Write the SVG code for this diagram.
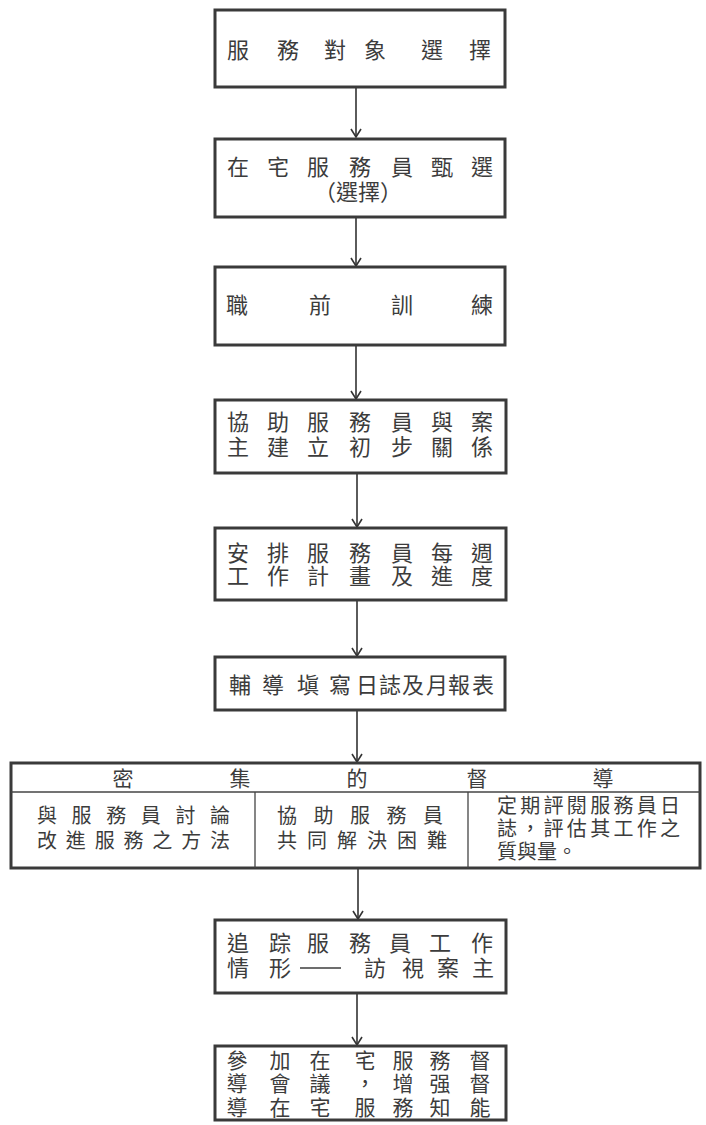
<svg xmlns="http://www.w3.org/2000/svg" width="706" height="1125" viewBox="0 0 706 1125">
<style>
.box{fill:#fff;stroke:#3a3a3a;stroke-width:3}
.thin{stroke:#444;stroke-width:1.3;fill:none}
.t{font-family:"Noto Sans CJK TC","Noto Sans CJK SC",sans-serif;font-size:22px;fill:#3c3c3c;text-anchor:middle}
.m{font-family:"Noto Sans CJK TC","Noto Sans CJK SC",sans-serif;font-size:21px;fill:#3c3c3c;text-anchor:middle}
.s{font-family:"Noto Sans CJK TC","Noto Sans CJK SC",sans-serif;font-size:20px;fill:#3c3c3c}
.c{stroke:#333;stroke-width:1.6;fill:none}
</style>
<defs>
<marker id="ah" markerUnits="userSpaceOnUse" markerWidth="12" markerHeight="14" refX="10" refY="7" orient="auto" viewBox="0 0 12 14">
<path d="M2,2 L10,7 L2,12" fill="none" stroke="#333" stroke-width="1.6"/>
</marker>
</defs>
<rect width="706" height="1125" fill="#fff"/>
<g id="connectors">
<line class="c" x1="356" y1="88" x2="356" y2="137" marker-end="url(#ah)"/>
<line class="c" x1="356" y1="218" x2="356" y2="266" marker-end="url(#ah)"/>
<line class="c" x1="356" y1="346" x2="356" y2="399" marker-end="url(#ah)"/>
<line class="c" x1="357" y1="474" x2="357" y2="527" marker-end="url(#ah)"/>
<line class="c" x1="357" y1="601" x2="357" y2="656" marker-end="url(#ah)"/>
<line class="c" x1="357" y1="711" x2="357" y2="762" marker-end="url(#ah)"/>
<line class="c" x1="358" y1="869" x2="358" y2="919" marker-end="url(#ah)"/>
<line class="c" x1="357" y1="994" x2="357" y2="1045" marker-end="url(#ah)"/>
</g>
<g id="n1">
<rect class="box" x="215" y="10" width="290" height="77"/>
<text class="t" x="238 288 335 375 432 480" y="58">服務對象選擇</text>
</g>
<g id="n2">
<rect class="box" x="215" y="139" width="290" height="78"/>
<text class="t" x="238 278 318 360 402 442 482" y="175">在宅服務員甄選</text>
<text class="t" x="358" y="200">（選擇）</text>
</g>
<g id="n3">
<rect class="box" x="215" y="267" width="290" height="78"/>
<text class="t" x="237 320 402 482" y="313">職前訓練</text>
</g>
<g id="n4">
<rect class="box" x="215" y="400" width="291" height="73"/>
<text class="t" x="238 278 318 360 402 442 482" y="430">協助服務員與案</text>
<text class="t" x="238 278 318 360 402 442 482" y="455">主建立初步關係</text>
</g>
<g id="n5">
<rect class="box" x="215" y="528" width="291" height="72"/>
<text class="t" x="238 278 318 360 402 442 482" y="561">安排服務員每週</text>
<text class="t" x="238 278 318 360 402 442 482" y="584">工作計畫及進度</text>
</g>
<g id="n6">
<rect class="box" x="215" y="657" width="290" height="53"/>
<text class="t" x="240 273 308 340 367 390 413 437 459 483" y="693">輔導塡寫日誌及月報表</text>
</g>
<g id="n7">
<rect class="box" x="11" y="763" width="689" height="105"/>
<line class="thin" x1="11" y1="792" x2="700" y2="792"/>
<line class="thin" x1="255" y1="792" x2="255" y2="868"/>
<line class="thin" x1="468" y1="792" x2="468" y2="868"/>
<text class="m" x="123 240 357 477 603" y="786">密集的督導</text>
<text class="s" x="37" y="823" textLength="193" lengthAdjust="spacing">與服務員討論</text>
<text class="s" x="37" y="848" textLength="193" lengthAdjust="spacing">改進服務之方法</text>
<text class="s" x="277" y="823" textLength="166" lengthAdjust="spacing">協助服務員</text>
<text class="s" x="277" y="848" textLength="170" lengthAdjust="spacing">共同解決困難</text>
<text class="s" x="497" y="813" textLength="183" lengthAdjust="spacing">定期評閱服務員日</text>
<text class="s" x="497" y="836" textLength="183" lengthAdjust="spacing">誌，評估其工作之</text>
<text class="s" x="497" y="859">質與量。</text>
</g>
<g id="n8">
<rect class="box" x="215" y="920" width="291" height="73"/>
<text class="t" x="238 280 318 360 400 440 482" y="951">追踪服務員工作</text>
<text class="t" x="238 280" y="976">情形</text>
<line x1="300" y1="968" x2="341" y2="968" stroke="#3c3c3c" stroke-width="1.6"/>
<text class="t" x="375 413 448 483" y="976">訪視案主</text>
</g>
<g id="n9">
<rect class="box" x="215" y="1046" width="291" height="74"/>
<text class="m" x="237 280 320 365 403 440 480" y="1068">參加在宅服務督</text>
<text class="m" x="237 280 320 365 403 440 480" y="1091">導會議，增强督</text>
<text class="m" x="237 280 320 365 403 440 480" y="1115">導在宅服務知能</text>
</g>
</svg>
